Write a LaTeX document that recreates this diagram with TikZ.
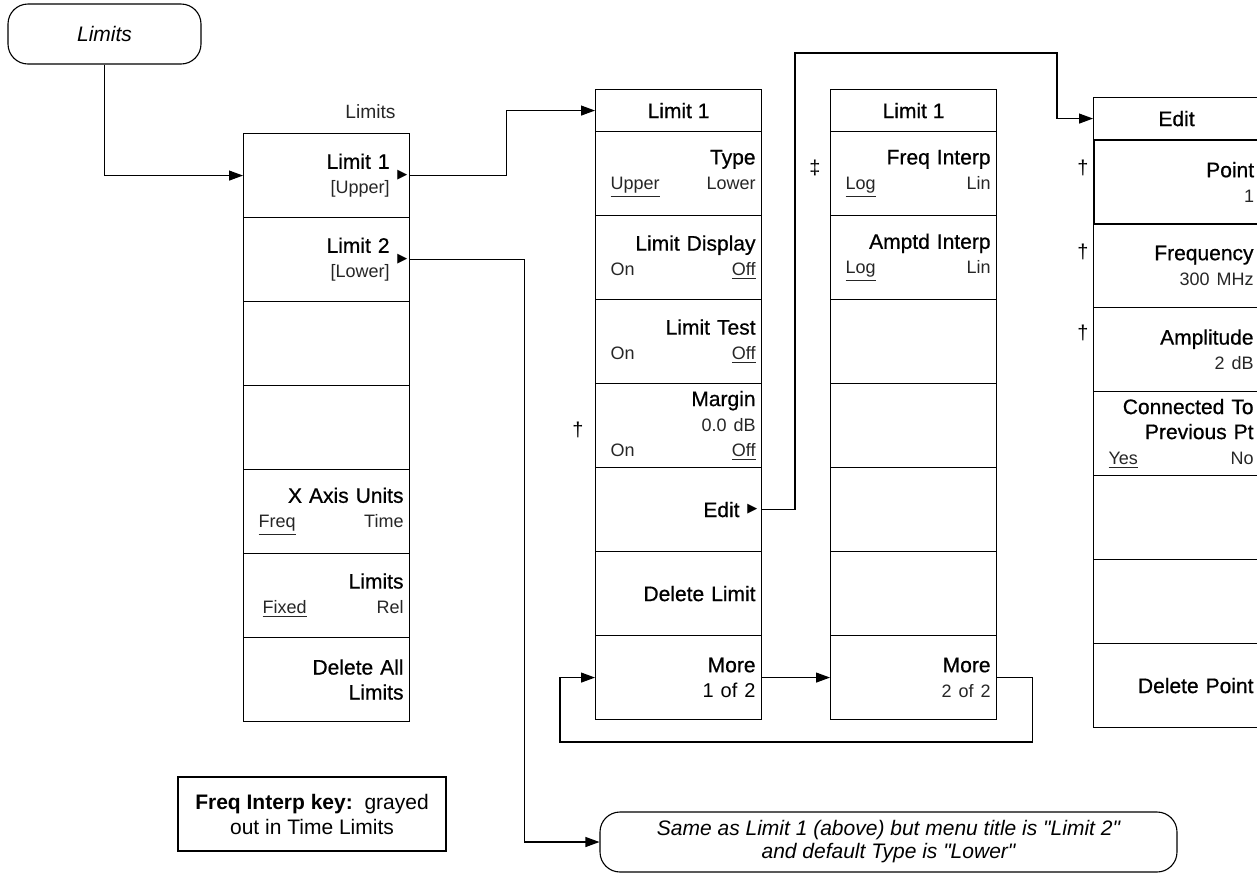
\documentclass[tikz,border=0pt]{standalone}
\usepackage{fontspec}
\setmainfont{Liberation Sans}
\newfontfamily\keyfont{Liberation Sans}[FakeBold=0.7]
\newfontfamily\notefont{Liberation Sans}[Ligatures=TeXOff]
\newfontfamily\symf{DejaVu Sans}
\usetikzlibrary{arrows.meta,positioning}

\newcommand{\subfont}{\normalfont\fontsize{9}{12.5}\selectfont\color{black!85}}
\newcommand{\sv}[1]{{\subfont #1}}
\newcommand{\sw}[2]{\makebox[77pt]{\subfont\hspace*{4.5pt}#1\hfill #2}}

\tikzset{
  softkey/.style={draw, line width=0.55pt, anchor=north west, minimum width=83pt, minimum height=42pt,
    inner sep=0pt, text width=77pt, align=right, font=\keyfont\fontsize{10.5}{12.5}\selectfont},
  menuttl/.style={draw, line width=0.55pt, anchor=north west, minimum width=83pt, minimum height=21pt,
    inner sep=0pt, font=\keyfont\fontsize{10.5}{12.5}\selectfont},
  tri/.style={anchor=east, inner sep=0pt, font=\symf\fontsize{6.5}{6.5}\selectfont},
  dag/.style={inner sep=0pt, font=\fontsize{10}{12}\selectfont},
  startbox/.style={draw, line width=0.55pt, rounded corners=10pt, minimum width=96.5pt, minimum height=30pt,
    font=\fontsize{10.5}{12.5}\selectfont\itshape},
  notebox/.style={draw, line width=0.55pt, align=center, inner sep=0pt},
  arr/.style={line width=0.55pt, -{Triangle[length=7pt,width=5pt]}}
}

\begin{document}
\begin{tikzpicture}[x=0.5pt,y=0.5pt,yscale=-1,xscale=1]
\useasboundingbox (0,0) rectangle (1257,874);

%Shape: Rounded Rect [start]
\node[startbox] (start) at (104.5,34) {Limits};

% Menu: Limits
\node[anchor=east, inner sep=0pt, font=\subfont\fontsize{9.6}{12}\selectfont] (limttl) at (396,112) {Limits};
\node[softkey] (lim1) at (243,133) {Limit 1\kern7pt\\\sv{[Upper]\kern7pt}};
\node[tri] (lim1tri) at ([xshift=-1.2pt]lim1.east) {▶};
\node[softkey] (lim2) at (243,217) {Limit 2\kern7pt\\\sv{[Lower]\kern7pt}};
\node[tri] (lim2tri) at ([xshift=-1.2pt]lim2.east) {▶};
\node[softkey] (lim3) at (243,301) {};
\node[softkey] (lim4) at (243,385) {};
\node[softkey] (xaxis) at (243,469) {X Axis Units\\\sw{\underline{Freq}}{Time}};
\node[softkey] (limfix) at (243,553) {Limits\\\sw{\hspace*{2pt}\underline{Fixed}}{Rel}};
\node[softkey] (delall) at (243,637) {Delete All\\Limits};

% Menu: Limit 1 (1 of 2)
\node[menuttl] (l1ttl) at (595,89) {Limit 1};
\node[softkey] (type) at (595,131) {Type\\\sw{\underline{Upper}}{Lower}};
\node[softkey] (limdisp) at (595,215) {Limit Display\\\sw{On}{\underline{Off}}};
\node[softkey] (limtest) at (595,299) {Limit Test\\\sw{On}{\underline{Off}}};
\node[softkey] (margin) at (595,383) {Margin\\\sv{0.0 dB}\\\sw{On}{\underline{Off}}};
\node[softkey] (edit) at (595,467) {Edit\kern8pt};
\node[tri] (edittri) at ([xshift=-2.2pt]edit.east) {▶};
\node[softkey] (dellim) at (595,551) {Delete Limit};
\node[softkey] (more1) at (595,635) {More\\{\normalfont\fontsize{10}{12.5}\selectfont 1 of 2}};
\node[dag] (dgmargin) at (578,430) {†};

% Menu: Limit 1 (2 of 2)
\node[menuttl] (l1ttlb) at (830,89) {Limit 1};
\node[softkey] (freqint) at (830,131) {Freq Interp\\\sw{\underline{Log}}{Lin}};
\node[softkey] (amptint) at (830,215) {Amptd Interp\\\sw{\underline{Log}}{Lin}};
\node[softkey] (m2k3) at (830,299) {};
\node[softkey] (m2k4) at (830,383) {};
\node[softkey] (m2k5) at (830,467) {};
\node[softkey] (m2k6) at (830,551) {};
\node[softkey] (more2) at (830,635) {More\\\sv{2 of 2}};
\node[dag] (dgfreq) at (815,168) {‡};

% Menu: Edit
\node[menuttl] (edttl) at (1093,97) {Edit};
\node[softkey, line width=1.1pt] (point) at (1093,139) {Point\\\sv{1}};
\node[softkey] (freq) at (1093,223) {Frequency\\\sv{300 MHz}};
\node[softkey] (ampl) at (1093,307) {Amplitude\\\sv{2 dB}};
\node[softkey] (conn) at (1093,391) {Connected To\\Previous Pt\\\sw{\underline{Yes}}{No}};
\node[softkey] (edk5) at (1093,475) {};
\node[softkey] (edk6) at (1093,559) {};
\node[softkey] (delpt) at (1093,643) {Delete Point};
\node[dag] (dgpoint) at (1083,168) {†};
\node[dag] (dgfreqk) at (1083,252) {†};
\node[dag] (dgampl) at (1083,333) {†};

% Text Node
\node[notebox, minimum width=134pt, minimum height=37pt, font=\fontsize{10.5}{12.5}\selectfont] (note) at (312,814)
  {\textbf{Freq Interp key:}\ \ grayed\\out in Time Limits};
% Text Node
\node[notebox, rounded corners=10pt, minimum width=288.5pt, minimum height=30pt, font=\notefont\fontsize{10.5}{11.5}\selectfont\itshape] (same) at (888.5,842)
  {Same as Limit 1 (above) but menu title is "Limit 2"\\and default Type is "Lower"};

% Connectors
\coordinate (e1) at (795,53);
\coordinate (e2) at (1057,53);
\coordinate (lp) at (560,742);
\draw[arr] (start.south) |- (lim1.west);
\draw[arr] (lim1.east) -- ++(96,0) |- (l1ttl.west);
\draw[arr] (lim2.east) -- ++(114,0) |- (same.west);
\draw[arr] (edit.east) -| (e1) -- (e2) |- (edttl.west);
\draw[arr] (more1.east) -- (more2.west);
\draw[arr] (more2.east) -- ++(35,0) |- (lp) |- (more1.west);
\end{tikzpicture}
\end{document}
